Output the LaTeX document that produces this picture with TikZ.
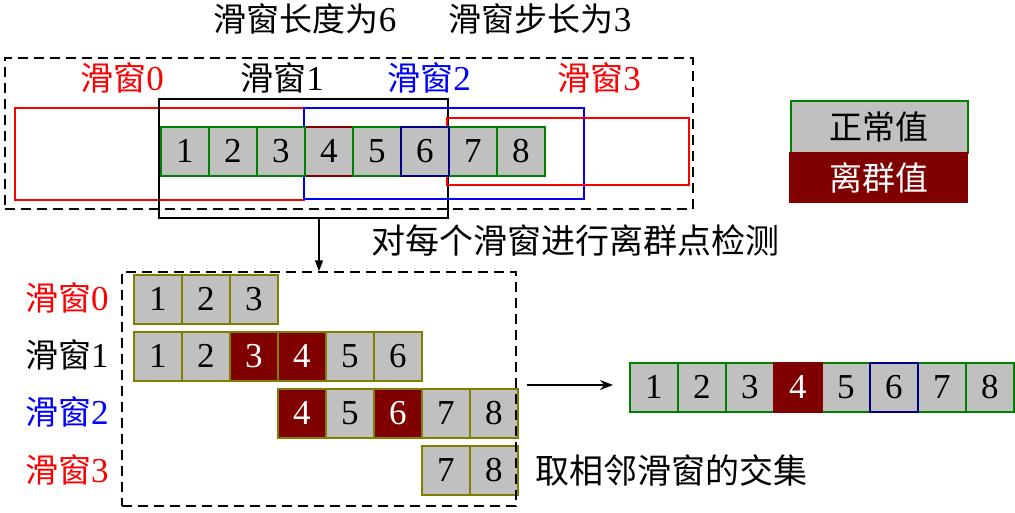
\documentclass[tikz,border=0pt]{standalone}
\usepackage{fontspec}
\setmainfont{Liberation Serif}
\newfontfamily\cjk{Noto Sans CJK SC}
\usetikzlibrary{arrows.meta}
\definecolor{cgray}{RGB}{192,192,192}
\definecolor{cmaroon}{RGB}{128,0,0}
\definecolor{cgreen}{RGB}{0,128,0}
\definecolor{cnavy}{RGB}{0,0,128}
\definecolor{colive}{RGB}{128,128,0}
\newcommand{\zh}[1]{{\cjk\fontsize{33}{40}\selectfont #1}}
\newcommand{\dg}[1]{{\fontsize{35}{40}\selectfont #1}}
\begin{document}
\begin{tikzpicture}[x=1pt,y=-1pt,
  cellbox/.style={draw=cgreen, fill=cgray, line width=1.5pt, minimum width=48pt, minimum height=49pt, inner sep=0pt, font=\fontsize{35}{40}\selectfont, anchor=north west},
  outl/.style={fill=cmaroon, text=white},
  lowcell/.style={cellbox, draw=colive},
  win/.style={draw, line width=1.5pt, inner sep=0pt},
  dbox/.style={draw, line width=1.5pt, dash pattern=on 10pt off 6pt, inner sep=0pt},
  arr/.style={line width=1.5pt}]
\useasboundingbox (0,0) rectangle (1015,512);

% titles
\node (t1) at (305,19) {\zh{滑窗长度为}\dg{6}};
\node (t2) at (540,19) {\zh{滑窗步长为}\dg{3}};

% window labels
\node[text=red] (l0) at (122,78) {\zh{滑窗}\dg{0}};
\node[text=black] (l1) at (282,78) {\zh{滑窗}\dg{1}};
\node[text=blue] (l2) at (429,78) {\zh{滑窗}\dg{2}};
\node[text=red] (l3) at (599,78) {\zh{滑窗}\dg{3}};

% windows
\node[win, draw=red, minimum width=289pt, minimum height=92pt] (w0) at (159.5,154) {};
\node[win, draw=black, minimum width=289pt, minimum height=119pt] (w1) at (303.5,158.5) {};
\node[win, draw=blue, minimum width=280pt, minimum height=91pt] (w2) at (444,153.5) {};
\node[win, draw=red, minimum width=242pt, minimum height=67pt] (w3) at (568,151.5) {};

% top strip
\node[cellbox, draw=cmaroon] (s4) at (304,126) {4};
\foreach \i in {1,2,3,5,7,8} {
  \node[cellbox] (s\i) at ({160+48*(\i-1)},126) {\i};
}
\node[cellbox, draw=cnavy] (s6) at (400,126) {6};

% top dashed box
\node[dbox, minimum width=688pt, minimum height=151pt] (tb) at (349,133.5) {};

% legend
\node[cellbox, minimum width=177pt, minimum height=52pt] (ln) at (790,100) {\zh{正常值}};
\node[fill=cmaroon, text=white, minimum width=178.5pt, minimum height=51pt, inner sep=0pt, anchor=north west] (lo) at (789.25,152) {\zh{离群值}};

% middle label
\node (mid) at (575,241) {{\cjk\fontsize{34}{40}\selectfont 对每个滑窗进行离群点检测}};

% lower rows labels
\node[text=red] (r0) at (67,298) {\zh{滑窗}\dg{0}};
\node[text=black] (r1) at (67,355) {\zh{滑窗}\dg{1}};
\node[text=blue] (r2) at (67,412) {\zh{滑窗}\dg{2}};
\node[text=red] (r3) at (67,470) {\zh{滑窗}\dg{3}};

% row 0
\foreach \i in {1,2,3} {
  \node[lowcell] (a\i) at ({133+48*(\i-1)},274) {\i};
}
% row 1
\foreach \i/\s in {1/,2/,3/outl,4/outl,5/,6/} {
  \node[lowcell,\s] (b\i) at ({133+48*(\i-1)},331) {\i};
}
% row 2
\foreach \i/\s in {4/outl,5/,6/outl,7/,8/} {
  \node[lowcell,\s] (c\i) at ({133+48*(\i-1)},388) {\i};
}
% row 3
\foreach \i in {7,8} {
  \node[lowcell] (d\i) at ({133+48*(\i-1)},445) {\i};
}

% lower dashed box
\node[dbox, minimum width=394pt, minimum height=234pt] (lb) at (319,389) {};

% result strip
\foreach \i in {1,2,3,5,7,8} {
  \node[cellbox] (f\i) at ({629+48*(\i-1)},362) {\i};
}
\node[cellbox, outl, draw=cmaroon] (f4) at (773,362) {4};
\node[cellbox, draw=cnavy] (f6) at (869,362) {6};

% bottom label
\node (bot) at (671,470) {{\cjk\fontsize{34}{40}\selectfont 取相邻滑窗的交集}};

% arrows
\draw[arr, -{Triangle[length=11pt,width=8pt]}] (lb.north |- w1.south) -- (lb.north);
\coordinate (ra) at (527,385);
\coordinate (rb) at (613,385);
\draw[arr, -{Stealth[length=13pt,width=10pt]}] (ra) -- (rb);
\end{tikzpicture}
\end{document}
